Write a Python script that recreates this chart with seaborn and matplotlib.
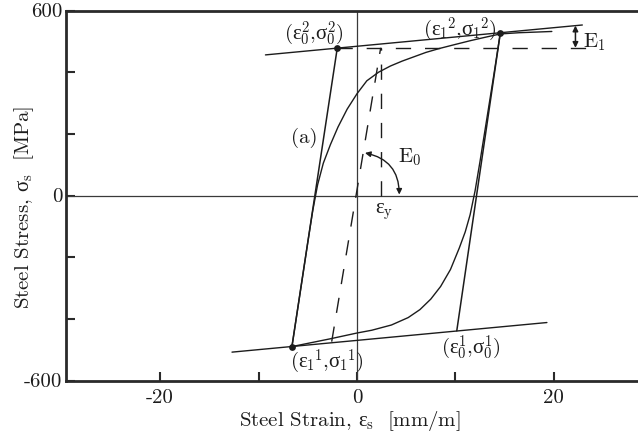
import matplotlib
matplotlib.use("Agg")
import matplotlib.pyplot as plt
import pandas as pd
import seaborn as sns

# ---- data: steel stress-strain cycle (strain in mm/m, stress in MPa) ----
# reloading branch (a) from reversal point 1 toward the upper asymptote
branch_a_strain = [-6.61, -6.0, -5.5, -5.0, -4.5, -4.0, -3.42, -2.7, -1.93, -1.0,
                   0.0, 1.0, 2.2, 3.4, 4.6, 5.8, 7.0, 8.4, 10.0, 11.5, 13.0,
                   14.57, 16.5, 18.2, 19.8]
branch_a_stress = [-490, -362, -257, -152, -50, 35, 105, 165, 222, 280,
                   330, 372, 400, 420, 436, 450, 464, 477, 490, 502, 513,
                   524, 528, 530, 532]

# unloading branch from reversal point 2 down to reversal point 1
branch_b_strain = [14.57, 13.9, 13.2, 12.5, 12.0, 11.5, 11.0, 10.4, 9.5, 8.5,
                   7.5, 6.4, 5.2, 3.5, 1.5, 0.0, -2.75, -6.61]
branch_b_stress = [528, 390, 250, 110, 15, -62, -118, -170, -240, -295,
                   -336, -370, -396, -420, -437, -446, -465, -490]

# asymptotes (slope E1)
upper_asym_strain = [-9.3, 22.9]
upper_asym_stress = [456, 553]
lower_asym_strain = [-12.7, 19.3]
lower_asym_stress = [-508, -412]

# elastic lines (slope E0)
elastic_up_strain = [-6.61, -2.0]
elastic_up_stress = [-490, 479]
elastic_down_strain = [14.57, 10.14]
elastic_down_stress = [528, -439]

# initial elastic line, yield strain and sigma_0^2 level (dashed)
initial_strain = [-2.57, 2.41]
initial_stress = [-474, 479]
yield_strain = [2.41, 2.41]
yield_stress = [0, 479]
level_strain = [-2.0, 23.9]
level_stress = [479, 479]

# marked points
point_strain = [-2.0, 14.57, -6.61]
point_stress = [479, 528, -490]

# axis ticks
xtick_values = [-20, -10, 0, 10, 20]
xtick_labels = ["-20", "", "0", "", "20"]
ytick_values = [-600, -400, -200, 0, 200, 400, 600]
ytick_labels = ["-600", "", "", "0", "", "", "600"]

# ---- style ----
sns.set_theme(style="white")
plt.rcParams.update({
    "font.family": "serif",
    "font.serif": ["cmr10"],
    # upright Greek letters, roman digits
    "mathtext.fontset": "custom",
    "mathtext.rm": "cmr10",
    "mathtext.it": "Liberation Serif",
    "mathtext.bf": "Liberation Serif:bold",
    "axes.unicode_minus": False,
    "axes.formatter.use_mathtext": True,
})

INK = "#1c1c1c"
FS = 15

W, H = 638, 438
fig = plt.figure(figsize=(W / 100, H / 100), dpi=100)
ax = fig.add_axes([65.7 / W, (H - 380.5) / H, 586.5 / W, 370 / H])
ax.set_xlim(-29.6, 30)
ax.set_ylim(-600, 600)


def line(xs, ys, lw=1.0, dashed=False):
    df = pd.DataFrame({"strain": xs, "stress": ys})
    kw = dict(dashes=(11, 10)) if dashed else {}
    sns.lineplot(data=df, x="strain", y="stress", sort=False, estimator=None,
                 color=INK, lw=lw, ax=ax, **kw)


# reference axes through the origin
ax.axhline(0, color="#3a3a3a", lw=0.9, zorder=1)
ax.axvline(0, color="#3a3a3a", lw=0.9, zorder=1)

line(upper_asym_strain, upper_asym_stress, lw=1.0)
line(lower_asym_strain, lower_asym_stress, lw=1.0)
line(elastic_up_strain, elastic_up_stress, lw=1.1)
line(elastic_down_strain, elastic_down_stress, lw=1.1)
line(branch_a_strain, branch_a_stress, lw=1.0)
line(branch_b_strain, branch_b_stress, lw=1.0)
line(initial_strain, initial_stress, lw=1.0, dashed=True)
line(yield_strain, yield_stress, lw=1.0, dashed=True)
line(level_strain, level_stress, lw=1.0, dashed=True)

sns.scatterplot(x=point_strain, y=point_stress, color=INK, s=24,
                edgecolor=INK, linewidth=0, ax=ax, zorder=5)

# annotations
ax.text(-4.37, 528, r"$(\varepsilon_0^2{,}\sigma_0^2)$", fontsize=FS,
        ha="center", va="center", color=INK)
ax.text(10.4, 540, r"$({\varepsilon_1}^2{,}{\sigma_1}^2)$", fontsize=FS,
        ha="center", va="center", color=INK)
ax.text(-3.05, -537, r"$({\varepsilon_1}^1{,}{\sigma_1}^1)$", fontsize=FS,
        ha="center", va="center", color=INK)
ax.text(11.6, -491, r"$(\varepsilon_0^1{,}\sigma_0^1)$", fontsize=FS,
        ha="center", va="center", color=INK)
ax.text(-5.4, 186, "(a)", fontsize=FS, ha="center", va="center", color=INK)
ax.text(5.3, 125, r"$\mathrm{E}_0$", fontsize=FS, ha="center", va="center",
        color=INK)
ax.text(2.75, -54, r"$\varepsilon_{\rm y}$", fontsize=FS, ha="center",
        va="center", color=INK)
ax.text(24.1, 498, r"$\mathrm{E}_1$", fontsize=FS, ha="center", va="center",
        color=INK)

ax.annotate("", xy=(22.2, 479), xytext=(22.2, 551),
            arrowprops=dict(arrowstyle="<|-|>", color=INK, lw=1.1,
                            shrinkA=0, shrinkB=0, mutation_scale=8))
ax.annotate("", xy=(4.3, 3), xytext=(0.81, 138),
            arrowprops=dict(arrowstyle="<|-|>", color=INK, lw=1.0,
                            shrinkA=0, shrinkB=0, mutation_scale=8,
                            connectionstyle="arc3,rad=-0.4"))

# axes frame and ticks
for side in ["top", "left", "bottom"]:
    ax.spines[side].set_linewidth(2.0)
    ax.spines[side].set_color("#2a2a2a")
ax.spines["right"].set_visible(False)

ax.set_xticks(xtick_values, labels=xtick_labels)
ax.set_yticks(ytick_values, labels=ytick_labels)
ax.tick_params(axis="both", direction="in", length=6.5, width=1.5,
               color="#2a2a2a", labelsize=FS, labelcolor=INK,
               bottom=True, left=True, top=False, right=False)
ax.tick_params(axis="x", pad=6)
ax.tick_params(axis="y", pad=2.5)
ax.set_xlabel("")
ax.set_ylabel("")

fig.text(350 / W, 1 - 421 / H, r"Steel Strain, $\varepsilon_{\rm s}$  [mm/m]",
         fontsize=FS, ha="center", va="center", color=INK)
fig.text(24 / W, 1 - 207 / H, r"Steel Stress, $\sigma_{\rm s}$  [MPa]",
         fontsize=FS, ha="center", va="center", rotation=90, color=INK)

fig.savefig("out.png", dpi=100)
